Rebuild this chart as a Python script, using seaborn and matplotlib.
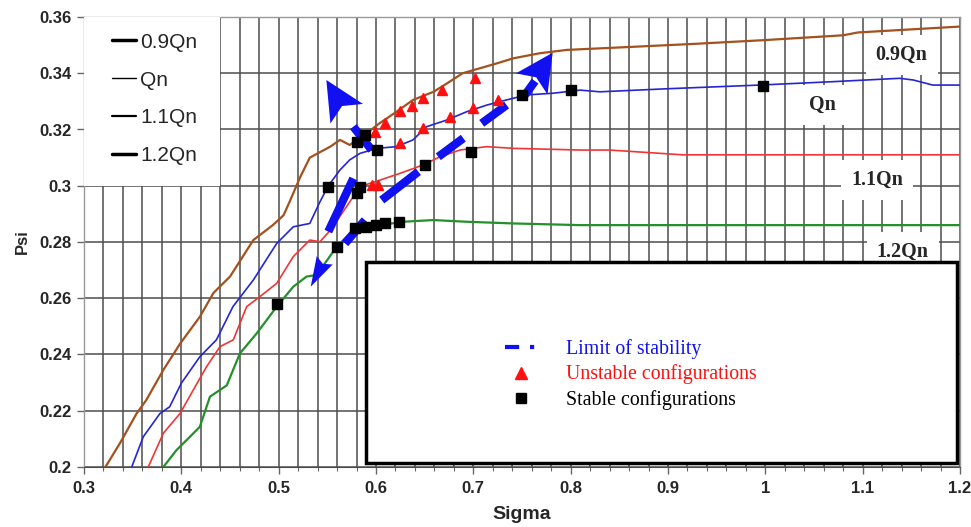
import matplotlib
matplotlib.use('Agg')
import matplotlib.pyplot as plt
from matplotlib.lines import Line2D
from matplotlib.patches import Rectangle
import numpy as np
import pandas as pd
import seaborn as sns

# curves (Sigma, Psi)
sigma_09 = [0.322, 0.337, 0.354, 0.364, 0.3815, 0.399, 0.419, 0.433, 0.45, 0.474, 0.494, 0.505,
            0.512, 0.522, 0.532, 0.553, 0.563, 0.573, 0.59, 0.604, 0.621, 0.638, 0.659, 0.673,
            0.689, 0.707, 0.724, 0.741, 0.768, 0.796, 0.864, 0.93, 1.0, 1.08, 1.095, 1.2]
psi_09 = [0.200, 0.2085, 0.219, 0.2238, 0.2345, 0.244, 0.2534, 0.2619, 0.2677, 0.2807, 0.286, 0.2895,
          0.2949, 0.303, 0.310, 0.3139, 0.3163, 0.3145, 0.3186, 0.3223, 0.3263, 0.3305, 0.3334, 0.3364,
          0.340, 0.3418, 0.3435, 0.3453, 0.3471, 0.3483, 0.3494, 0.3505, 0.3518, 0.3535, 0.3545, 0.3566]

sigma_10 = [0.349, 0.361, 0.378, 0.388, 0.400, 0.419, 0.436, 0.453, 0.474, 0.498, 0.515, 0.532,
            0.542, 0.551, 0.563, 0.573, 0.5835, 0.601, 0.621, 0.638, 0.652, 0.673, 0.693, 0.714,
            0.734, 0.755, 0.782, 0.81, 0.83, 0.90, 0.994, 1.069, 1.138, 1.152, 1.172, 1.2]
psi_10 = [0.200, 0.2108, 0.219, 0.2214, 0.2298, 0.2392, 0.2452, 0.257, 0.2665, 0.2795, 0.2854, 0.2866,
          0.294, 0.300, 0.3056, 0.3092, 0.3115, 0.3133, 0.3139, 0.3163, 0.321, 0.3234, 0.3263, 0.3287,
          0.3305, 0.3323, 0.3329, 0.334, 0.3334, 0.3345, 0.3358, 0.337, 0.3382, 0.3376, 0.3358, 0.3358]

sigma_11 = [0.366, 0.3815, 0.3986, 0.4123, 0.426, 0.4397, 0.4534, 0.4671, 0.4808, 0.498, 0.515, 0.532,
            0.5424, 0.5527, 0.5698, 0.5835, 0.604, 0.6246, 0.6485, 0.6657, 0.6862, 0.7137, 0.741,
            0.81, 0.84, 0.915, 1.2]
psi_11 = [0.200, 0.212, 0.219, 0.2274, 0.2357, 0.2428, 0.2452, 0.257, 0.2606, 0.2653, 0.2748, 0.2807,
          0.2801, 0.2840, 0.2926, 0.2997, 0.302, 0.3044, 0.3074, 0.3103, 0.3127, 0.3139, 0.3133,
          0.3127, 0.3127, 0.311, 0.311]

sigma_12 = [0.3815, 0.395, 0.4055, 0.419, 0.4294, 0.4466, 0.4602, 0.4774, 0.498, 0.515, 0.5286, 0.539,
            0.5596, 0.58, 0.604, 0.628, 0.659, 0.693, 0.741, 0.81, 1.2]
psi_12 = [0.200, 0.206, 0.2096, 0.2143, 0.225, 0.229, 0.2404, 0.2475, 0.257, 0.2641, 0.2677, 0.2683,
          0.2783, 0.2854, 0.286, 0.2872, 0.2878, 0.2872, 0.2866, 0.286, 0.286]

curve_names = ['0.9Qn', 'Qn', '1.1Qn', '1.2Qn']
curve_colors = ['#A4511E', '#2525D5', '#F03535', '#23902A']

# configurations
stable_sigma = [0.498, 0.56, 0.578, 0.59, 0.60, 0.609, 0.624, 0.58, 0.5835, 0.65, 0.698,
                0.551, 0.6007, 0.75, 0.80, 0.998, 0.58, 0.589]
stable_psi = [0.258, 0.2783, 0.2849, 0.2854, 0.286, 0.2866, 0.2872, 0.2973, 0.2997, 0.3074, 0.3121,
              0.2997, 0.3127, 0.3323, 0.334, 0.3355, 0.3157, 0.318]
unstable_sigma = [0.5954, 0.6023, 0.6246, 0.6485, 0.676, 0.6992, 0.7256,
                  0.599, 0.609, 0.6246, 0.6366, 0.6485, 0.6674, 0.7016]
unstable_psi = [0.3003, 0.3003, 0.3151, 0.3204, 0.3244, 0.3275, 0.3305,
                0.3192, 0.3222, 0.3265, 0.3285, 0.3311, 0.334, 0.3382]

# limit of stability: dash pieces (start, end) and arrow heads (tip, base)
dash_sigma0 = [0.551, 0.5767, 0.5682, 0.6059, 0.664, 0.7086, 0.7531]
dash_psi0 = [0.2837, 0.321, 0.2795, 0.2949, 0.3103, 0.3222, 0.3323]
dash_sigma1 = [0.5767, 0.5956, 0.5887, 0.6435, 0.6897, 0.7342, 0.7634]
dash_psi1 = [0.3026, 0.3127, 0.2878, 0.305, 0.3169, 0.3287, 0.3372]
head_tip_sigma = [0.549, 0.7815, 0.5329]
head_tip_psi = [0.3376, 0.3473, 0.2641]
head_base_sigma = [0.5699, 0.760, 0.5473]
head_base_psi = [0.3256, 0.3362, 0.2735]
head_half_width = [19, 19, 9]   # pixels
head_notch = [9, 8, 4]

# label positions on the right side
label_names = ['0.9Qn', 'Qn', '1.1Qn', '1.2Qn']
label_sigma = [1.14, 1.059, 1.1146, 1.141]
label_psi = [0.3465, 0.3287, 0.302, 0.2764]

x_ticks = [0.3, 0.4, 0.5, 0.6, 0.7, 0.8, 0.9, 1.0, 1.1, 1.2]
x_tick_labels = ['0.3', '0.4', '0.5', '0.6', '0.7', '0.8', '0.9', '1', '1.1', '1.2']
y_ticks = [0.2, 0.22, 0.24, 0.26, 0.28, 0.3, 0.32, 0.34, 0.36]
y_tick_labels = ['0.2', '0.22', '0.24', '0.26', '0.28', '0.3', '0.32', '0.34', '0.36']

sns.set_style('white')
plt.rcParams['font.family'] = ['Liberation Sans', 'DejaVu Sans']

fig = plt.figure(figsize=(9.71, 5.27), dpi=100)
ax = fig.add_axes([84 / 971, 1 - 467 / 527, 876 / 971, 450 / 527])
ax.set_xlim(0.3, 1.2)
ax.set_ylim(0.2, 0.36)

curves = [(sigma_09, psi_09), (sigma_10, psi_10), (sigma_11, psi_11), (sigma_12, psi_12)]
widths = [1.6, 1.2, 1.2, 1.6]
for (sx, sy), name, col, lw in zip(curves, curve_names, curve_colors, widths):
    df = pd.DataFrame({'Sigma': sx, 'Psi': sy})
    sns.lineplot(data=df, x='Sigma', y='Psi', ax=ax, color=col, linewidth=lw, zorder=3)

lim_blue = '#1010F0'
for x0, y0, x1, y1 in zip(dash_sigma0, dash_psi0, dash_sigma1, dash_psi1):
    ax.plot([x0, x1], [y0, y1], color=lim_blue, lw=6, solid_capstyle='butt', zorder=4)

# notched arrow heads, built in pixel space so they keep their shape
to_px = ax.transData
to_data = ax.transData.inverted()
for tx, ty, bx, by, hw, nd in zip(head_tip_sigma, head_tip_psi, head_base_sigma, head_base_psi,
                                  head_half_width, head_notch):
    tip = to_px.transform((tx, ty))
    base = to_px.transform((bx, by))
    d = tip - base
    d = d / np.hypot(*d)
    n = np.array([-d[1], d[0]])
    pts = np.array([tip, base + n * hw, base + d * nd, base - n * hw])
    pts = to_data.transform(pts)
    ax.fill(pts[:, 0], pts[:, 1], color=lim_blue, lw=0, zorder=4)

ax.plot(unstable_sigma, unstable_psi, linestyle='none', marker='^', color='#FF1010',
        markersize=7, zorder=5)
ax.plot(stable_sigma, stable_psi, linestyle='none', marker='s', color='black',
        markersize=6.5, zorder=5)

# labels at right
for name, lx, ly in zip(label_names, label_sigma, label_psi):
    ax.text(lx, ly, name, ha='center', va='center', fontsize=14.5, fontweight='bold',
            family='Liberation Serif', zorder=3.5,
            bbox=dict(boxstyle='square,pad=0.5', facecolor='white', edgecolor='none'))

# legend box for configurations
ax.add_patch(Rectangle((0.59, 0.2014), 0.607, 0.0715, facecolor='white', edgecolor='black',
                       lw=2.5, zorder=6))
# white area behind the curve legend
ax.add_patch(Rectangle((0.3, 0.30), 0.14, 0.06, facecolor='white', edgecolor='none', zorder=6))

curve_handles = [Line2D([], [], color='black', lw=w) for w in [2.5, 1.0, 1.6, 2.5]]
leg1 = ax.legend(curve_handles, curve_names, loc='upper left', bbox_to_anchor=(0.032, 0.965),
                 frameon=False, fontsize=15, handlelength=1.15, handletextpad=0.2,
                 labelspacing=0.9, borderpad=0, borderaxespad=0)
leg1.set_zorder(7)
ax.add_artist(leg1)

config_handles = [
    Line2D([], [], color=lim_blue, lw=3, linestyle=(0, (3.4, 2.6, 1, 5))),
    Line2D([], [], color='#FF1010', marker='^', linestyle='none', markersize=8),
    Line2D([], [], color='black', marker='s', linestyle='none', markersize=7),
]
config_labels = ['Limit of stability', 'Unstable configurations', 'Stable configurations']
leg2 = ax.legend(config_handles, config_labels, loc='center left', bbox_to_anchor=(0.4806, 0.2055),
                 frameon=False, prop={'family': 'Liberation Serif', 'size': 14.3},
                 handlelength=1.57, handletextpad=1.5, labelspacing=0.3, borderpad=0,
                 borderaxespad=0, labelcolor=[lim_blue, '#FF1010', 'black'])
leg2.set_zorder(7)

ax.set_xticks(x_ticks)
ax.set_xticklabels(x_tick_labels)
ax.set_xticks(np.arange(0.3, 1.2001, 0.02), minor=True)
ax.set_yticks(y_ticks)
ax.set_yticklabels(y_tick_labels)
ax.grid(which='both', color='0.3', lw=1.1)
ax.set_axisbelow(True)
ax.tick_params(axis='both', which='major', labelsize=12, length=5, width=1, color='0.4',
               bottom=True, left=True, pad=4)
ax.tick_params(axis='x', which='major', pad=5)
ax.tick_params(axis='x', which='minor', length=3, width=0.8, color='0.4', bottom=True)
for lab in ax.get_xticklabels() + ax.get_yticklabels():
    lab.set_fontweight('bold')
ax.set_xlabel('Sigma', fontsize=14, fontweight='bold', labelpad=7)
ax.set_ylabel('Psi', fontsize=12, fontweight='bold', labelpad=7)

for side in ['top', 'right', 'left']:
    ax.spines[side].set_color('0.6')
    ax.spines[side].set_linewidth(1)
ax.spines['bottom'].set_color('0.3')

plt.savefig('out.png', dpi=100)
plt.close()
